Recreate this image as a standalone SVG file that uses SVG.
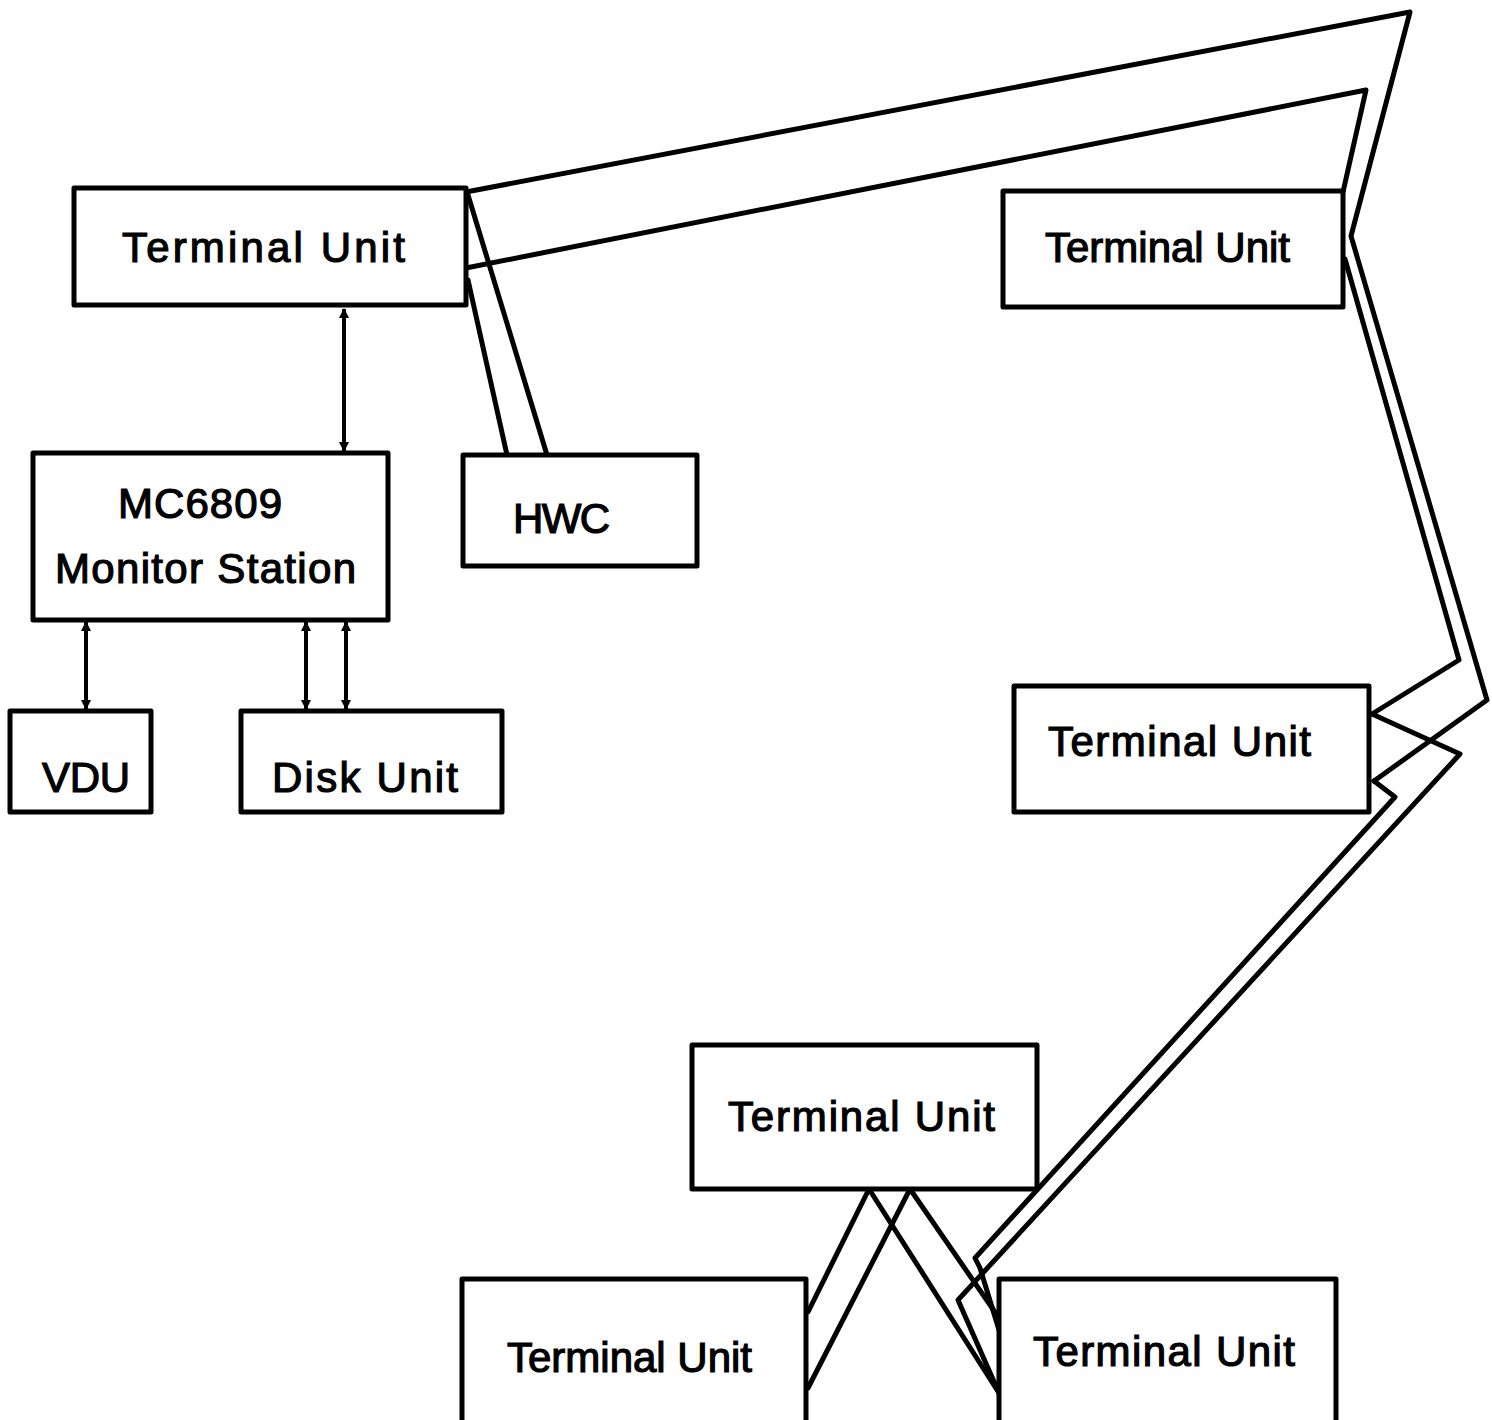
<svg xmlns="http://www.w3.org/2000/svg" width="1492" height="1420" viewBox="0 0 1492 1420">
<defs>
<style>
.box{fill:#fff;stroke:#000;stroke-width:5;stroke-linejoin:round}
.lbl{font-family:"Liberation Sans","DejaVu Sans",Arial,sans-serif;font-size:42px;fill:#000;stroke:#000;stroke-width:1.2}
.wire{fill:none;stroke:#000;stroke-width:5;stroke-linejoin:round;stroke-linecap:round}
.arr{fill:none;stroke:#000;stroke-width:4}
</style>
<marker id="ah" viewBox="0 0 10 10" refX="9" refY="5" markerWidth="10" markerHeight="12" markerUnits="userSpaceOnUse" orient="auto-start-reverse">
<path d="M0,0 L10,5 L0,10 Z" fill="#000"/>
</marker>
</defs>
<rect width="1492" height="1420" fill="#fff"/>

<g id="connectors">
<polyline class="wire" points="466,192 1410,12 1351,236 1487,700 1374,781"/>
<polyline class="wire" points="466,268 1366,90 1343,192"/>
<polyline class="wire" points="1345,259 1459,660 1372,714"/>
<line class="wire" x1="468" y1="195" x2="547" y2="455"/>
<line class="wire" x1="468" y1="280" x2="507" y2="455"/>
<polyline class="wire" points="1372,714 1460,754 958,1300 999,1393"/>
<polyline class="wire" points="1374,781 1395,797 975,1258 980,1268 999,1330"/>
<line class="wire" x1="869" y1="1189" x2="808" y2="1312"/>
<line class="wire" x1="869" y1="1189" x2="999" y2="1393"/>
<line class="wire" x1="910" y1="1189" x2="808" y2="1388"/>
<line class="wire" x1="910" y1="1189" x2="997" y2="1315"/>
<line class="arr" x1="344" y1="309" x2="344" y2="451" marker-start="url(#ah)" marker-end="url(#ah)"/>
<line class="arr" x1="86" y1="622" x2="86" y2="709" marker-start="url(#ah)" marker-end="url(#ah)"/>
<line class="arr" x1="306" y1="622" x2="306" y2="709" marker-start="url(#ah)" marker-end="url(#ah)"/>
<line class="arr" x1="346" y1="622" x2="346" y2="709" marker-start="url(#ah)" marker-end="url(#ah)"/>
</g>

<g id="tu1"><rect class="box" x="74" y="188" width="392" height="117"/>
<text class="lbl" x="122" y="262" textLength="283" lengthAdjust="spacing">Terminal  Unit</text></g>
<g id="tu2"><rect class="box" x="1003" y="191" width="340" height="116"/>
<text class="lbl" x="1045" y="262" textLength="245" lengthAdjust="spacing">Terminal Unit</text></g>
<g id="monitor"><rect class="box" x="33" y="453" width="355" height="167"/>
<text class="lbl" x="118" y="518" textLength="164" lengthAdjust="spacing">MC6809</text>
<text class="lbl" x="55" y="583" textLength="301" lengthAdjust="spacing">Monitor  Station</text></g>
<g id="hwc"><rect class="box" x="463" y="455" width="234" height="111"/>
<text class="lbl" x="513" y="533" textLength="97" lengthAdjust="spacing">HWC</text></g>
<g id="vdu"><rect class="box" x="10" y="711" width="141" height="101"/>
<text class="lbl" x="42" y="792" textLength="88" lengthAdjust="spacing">VDU</text></g>
<g id="disk"><rect class="box" x="241" y="711" width="261" height="101"/>
<text class="lbl" x="272" y="792" textLength="186" lengthAdjust="spacing">Disk Unit</text></g>
<g id="tu3"><rect class="box" x="1014" y="686" width="355" height="126"/>
<text class="lbl" x="1048" y="756" textLength="263" lengthAdjust="spacing">Terminal  Unit</text></g>
<g id="tu5"><rect class="box" x="692" y="1045" width="345" height="144"/>
<text class="lbl" x="728" y="1131" textLength="267" lengthAdjust="spacing">Terminal  Unit</text></g>
<g id="tu4"><rect class="box" x="462" y="1279" width="344" height="150"/>
<text class="lbl" x="507" y="1372" textLength="245" lengthAdjust="spacing">Terminal Unit</text></g>
<g id="tu6"><rect class="box" x="999" y="1279" width="337" height="150"/>
<text class="lbl" x="1033" y="1366" textLength="262" lengthAdjust="spacing">Terminal  Unit</text></g>
</svg>
